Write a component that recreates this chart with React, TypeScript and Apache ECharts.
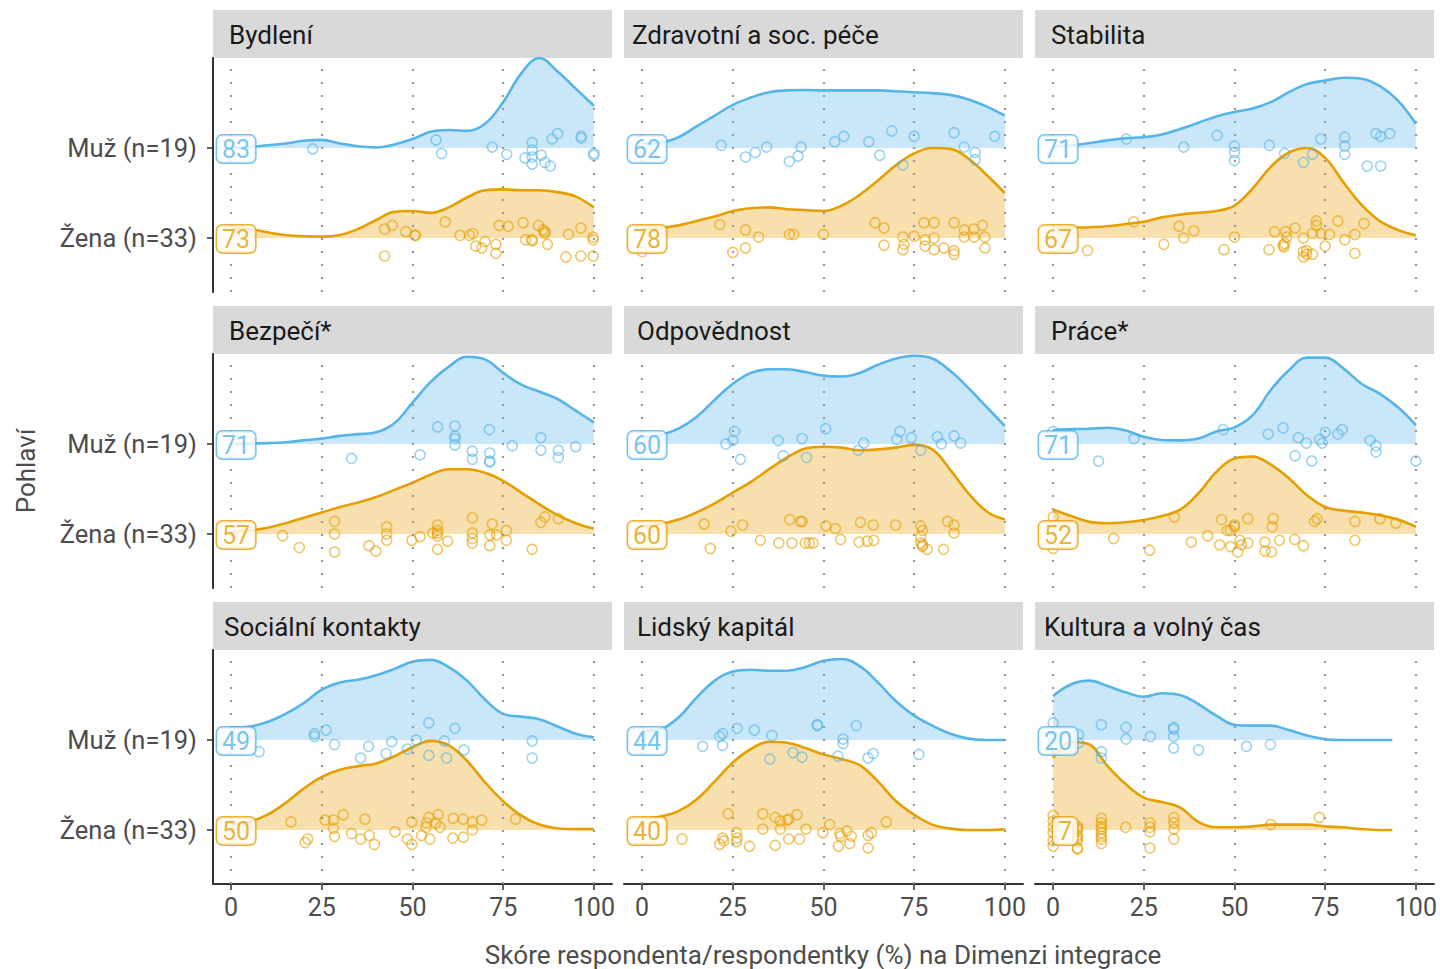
import React, { useEffect, useRef } from 'react';
import * as echarts from 'echarts';

const PANELS = ['Bydlení', 'Zdravotní a soc. péče', 'Stabilita', 'Bezpečí*', 'Odpovědnost', 'Práce*', 'Sociální kontakty', 'Lidský kapitál', 'Kultura a volný čas'];
const GROUPS = ['Muž (n=19)', 'Žena (n=33)'];
const X_TICKS = [0, 25, 50, 75, 100];
const X_TITLE = 'Skóre respondenta/respondentky (%) na Dimenzi integrace';
const Y_TITLE = 'Pohlaví';

const MEDIAN_MUZ = [83, 62, 71, 71, 60, 71, 49, 44, 20];
const MEDIAN_ZENA = [73, 78, 67, 57, 60, 52, 50, 40, 7];

const DENSITY_X = [0, 5, 10, 15, 20, 25, 30, 35, 40, 45, 50, 55, 60, 65, 70, 75, 80, 85, 90, 95, 100];
const DENSITY_X_KULTURA = [0, 5, 10, 15, 20, 25, 30, 35, 40, 45, 50, 55, 60, 65, 70, 75, 80, 85, 90, 93.5];

// density heights (ridge units) read at DENSITY_X
const DENS_MUZ = [
  [0.005, 0.01, 0.03, 0.05, 0.08, 0.09, 0.05, 0.02, 0.005, 0.04, 0.1, 0.18, 0.2, 0.19, 0.27, 0.51, 0.83, 1.0, 0.85, 0.66, 0.47],
  [0.05, 0.06, 0.12, 0.24, 0.36, 0.48, 0.56, 0.62, 0.64, 0.645, 0.64, 0.64, 0.64, 0.64, 0.63, 0.62, 0.61, 0.59, 0.54, 0.46, 0.36],
  [0.02, 0.03, 0.055, 0.085, 0.11, 0.12, 0.15, 0.21, 0.28, 0.35, 0.4, 0.44, 0.51, 0.62, 0.71, 0.75, 0.78, 0.77, 0.69, 0.53, 0.27],
  [0, 0.005, 0.01, 0.02, 0.04, 0.06, 0.09, 0.11, 0.13, 0.23, 0.46, 0.69, 0.86, 0.97, 0.94, 0.79, 0.66, 0.58, 0.5, 0.37, 0.24],
  [0.08, 0.1, 0.17, 0.3, 0.49, 0.67, 0.79, 0.83, 0.83, 0.8, 0.76, 0.75, 0.79, 0.88, 0.95, 0.98, 0.95, 0.81, 0.62, 0.41, 0.2],
  [0.155, 0.165, 0.17, 0.18, 0.15, 0.08, 0.045, 0.04, 0.06, 0.14, 0.185, 0.32, 0.6, 0.82, 0.96, 0.96, 0.84, 0.67, 0.56, 0.41, 0.21],
  [0.14, 0.15, 0.2, 0.29, 0.41, 0.56, 0.64, 0.67, 0.72, 0.79, 0.87, 0.89, 0.81, 0.66, 0.45, 0.29, 0.26, 0.23, 0.15, 0.07, 0.03],
  [0.1, 0.12, 0.25, 0.47, 0.66, 0.76, 0.78, 0.77, 0.77, 0.81, 0.88, 0.9, 0.82, 0.64, 0.43, 0.27, 0.16, 0.07, 0.015, 0, 0],
  [0.49, 0.62, 0.66, 0.6, 0.53, 0.48, 0.52, 0.5, 0.4, 0.27, 0.17, 0.16, 0.16, 0.11, 0.05, 0.01, 0, 0, 0, 0],
];

const DENS_ZENA = [
  [0.11, 0.1, 0.063, 0.033, 0.019, 0.015, 0.033, 0.1, 0.2, 0.29, 0.3, 0.28, 0.34, 0.45, 0.53, 0.54, 0.53, 0.53, 0.51, 0.46, 0.34],
  [0.1, 0.11, 0.14, 0.19, 0.24, 0.3, 0.33, 0.34, 0.32, 0.31, 0.3, 0.36, 0.48, 0.64, 0.81, 0.94, 1.0, 0.99, 0.88, 0.7, 0.5],
  [0.11, 0.115, 0.12, 0.13, 0.155, 0.18, 0.23, 0.26, 0.28, 0.3, 0.36, 0.55, 0.79, 0.95, 1.0, 0.89, 0.62, 0.37, 0.19, 0.09, 0.03],
  [0.03, 0.04, 0.07, 0.12, 0.18, 0.24, 0.3, 0.35, 0.41, 0.49, 0.57, 0.66, 0.72, 0.72, 0.68, 0.59, 0.46, 0.33, 0.21, 0.12, 0.06],
  [0.09, 0.11, 0.16, 0.24, 0.34, 0.46, 0.58, 0.72, 0.85, 0.95, 0.97, 0.96, 0.93, 0.94, 0.96, 0.99, 0.94, 0.71, 0.45, 0.25, 0.16],
  [0.27, 0.2, 0.135, 0.12, 0.13, 0.155, 0.2, 0.27, 0.45, 0.69, 0.84, 0.86, 0.77, 0.62, 0.43, 0.3, 0.26, 0.24, 0.21, 0.16, 0.08],
  [0.06, 0.09, 0.17, 0.3, 0.46, 0.59, 0.67, 0.71, 0.74, 0.82, 0.92, 0.99, 0.94, 0.77, 0.53, 0.32, 0.16, 0.06, 0.02, 0.01, 0.01],
  [0.13, 0.15, 0.21, 0.34, 0.54, 0.75, 0.9, 0.98, 0.97, 0.91, 0.84, 0.79, 0.72, 0.54, 0.32, 0.17, 0.06, 0.015, 0, 0, 0.01],
  [0.8, 0.98, 0.95, 0.71, 0.51, 0.36, 0.31, 0.25, 0.09, 0.03, 0.03, 0.04, 0.06, 0.06, 0.06, 0.04, 0.03, 0.01, 0, 0],
];

// respondents: [score, vertical jitter]
const PTS_MUZ = [
  [[22.5, -0.01], [56.5, 0.09], [58, -0.06], [72, 0.01], [76, -0.07], [81, -0.11], [83, 0.06], [83, -0.02], [83, -0.18], [85.5, -0.08], [86.5, -0.16], [88, -0.2], [88.5, 0.1], [90, 0.16], [96.5, 0.13], [96.5, 0.11], [100, -0.06], [100, -0.08], [83, -0.1]],
  [[21.8, 0.03], [28.5, -0.1], [31.2, -0.05], [34.3, 0.01], [40.6, -0.15], [43, -0.09], [43.8, 0.01], [53.1, 0.07], [55.6, 0.13], [62.5, 0.07], [65.5, -0.08], [68.8, 0.19], [71.9, -0.19], [75, 0.13], [86, 0.17], [88.8, 0.01], [91.8, -0.05], [91.8, -0.13], [97.2, 0.13]],
  [[20.2, 0.1], [36, 0.01], [45.2, 0.14], [50, 0.02], [50, -0.05], [50, -0.14], [59.6, 0.03], [63.8, -0.06], [69, -0.16], [71.5, -0.07], [73.8, 0.1], [80.4, 0.12], [80.4, 0.02], [80.4, -0.07], [86.6, -0.2], [89, 0.16], [90.3, 0.13], [90.3, -0.2], [92.8, 0.16]],
  [[33.2, -0.16], [52.1, -0.12], [56.9, 0.19], [61.7, 0.2], [61.7, 0.09], [61.7, 0.06], [61.7, -0.01], [66.5, -0.08], [66.5, -0.17], [71.2, 0.16], [71.3, -0.1], [71.3, -0.19], [71.3, -0.2], [77.5, -0.02], [85.4, 0.07], [85.4, -0.07], [90.2, -0.07], [90.2, -0.15], [95, -0.03]],
  [[23.1, 0], [25, 0.04], [25.5, 0.14], [27.1, -0.17], [37.5, 0.04], [38.9, -0.13], [44.1, 0.06], [45.3, -0.15], [50.6, 0.17], [59.6, -0.07], [61.1, 0.01], [70.2, 0.05], [71.1, 0.14], [74.2, 0.07], [76.8, -0.07], [81.4, 0.08], [82.5, 0], [86, 0.09], [87.8, 0.01]],
  [[0, 0.14], [12.5, -0.19], [22.3, 0.06], [46.9, 0.16], [59.3, 0.11], [63.4, 0.18], [66.7, -0.13], [67.6, 0.07], [69.8, 0.01], [71.3, -0.19], [73.5, 0.05], [74.2, 0.01], [75, 0.13], [78.5, 0.11], [79.7, 0.16], [87.4, 0.04], [89, -0.02], [89, -0.09], [100, -0.19]],
  [[7.7, -0.13], [23, 0.07], [23, 0.04], [26.2, 0.11], [28.5, -0.05], [35.7, -0.2], [37.9, -0.07], [42.7, -0.15], [44.3, -0.02], [48.6, -0.1], [51, 0], [54.5, 0.19], [54.5, -0.17], [58.8, -0.01], [59.4, -0.2], [61.7, 0.13], [64.2, -0.11], [83, -0.01], [83, -0.2]],
  [[16.7, -0.07], [21.4, 0.04], [22.2, 0.07], [22.2, -0.06], [26.2, 0.13], [30.9, 0.11], [35.2, -0.21], [35.8, 0.05], [41.6, -0.14], [44.1, -0.19], [48.3, 0.16], [48.3, 0.17], [54, -0.18], [55.4, 0.01], [55.4, -0.04], [59, 0.16], [62.3, -0.2], [63.7, -0.15], [76.3, -0.16]],
  [[0, 0.19], [0, 0.04], [0, -0.03], [7, 0.06], [7, -0.03], [13.3, 0.17], [13.3, -0.13], [13.3, -0.2], [20.1, 0.14], [20.1, 0.01], [26.8, 0.04], [33.2, 0.14], [33.2, 0.12], [33.2, 0.04], [33.2, -0.09], [40.1, -0.11], [53.3, -0.07], [59.9, -0.05], [0, -0.07]],
];

const PTS_ZENA = [
  [[42.3, 0.1], [42.3, -0.2], [44.4, 0.14], [48.2, 0.07], [50.6, 0.03], [50.9, 0.03], [59, 0.18], [63.1, 0.03], [65.7, 0.03], [66.6, 0.05], [67.4, -0.09], [69.1, -0.11], [70, -0.04], [73, -0.07], [73, -0.17], [73.9, 0.14], [76.4, 0.13], [80.5, 0.17], [81.2, -0.02], [83.1, -0.03], [84.7, 0.14], [86.5, 0.07], [86.5, 0.05], [87.2, -0.07], [92.3, -0.21], [93, 0.04], [96.4, 0.11], [96.4, -0.2], [99.8, 0.01], [99.8, -0.02], [99.8, -0.2], [82.8, -0.02], [86, 0.09]],
  [[0, -0.15], [21.4, 0.15], [25, -0.16], [28.5, 0.09], [28.5, -0.11], [32.1, 0.01], [40.6, 0.04], [41.8, 0.04], [50, 0.04], [64.2, 0.17], [66.7, 0.11], [66.7, -0.08], [71.9, 0.01], [72.2, -0.07], [71.9, -0.13], [75, 0.02], [77.7, 0.17], [80.5, 0.17], [78, -0.02], [78, -0.09], [80.5, 0], [80.5, -0.13], [83.2, -0.11], [86, 0.17], [86, -0.14], [86, -0.18], [88.8, 0.09], [88.8, 0.01], [91.5, 0.1], [91.5, 0.01], [93.8, 0.14], [94.5, 0.01], [94.5, -0.11]],
  [[9.5, -0.14], [22.2, 0.18], [30.5, -0.07], [34.7, 0.13], [36, 0], [38.8, 0.08], [47.1, -0.13], [50, 0.01], [59.5, -0.13], [61.1, 0.07], [63.4, -0.08], [63.8, -0.06], [64.1, 0.07], [64.4, 0.01], [66.7, 0.11], [69, 0], [69, -0.15], [69, -0.21], [69.9, -0.14], [71.5, 0.05], [71.5, -0.18], [72.6, 0.19], [72.6, 0.14], [73.8, 0.05], [75, -0.09], [76.2, 0.04], [78.5, 0.19], [80.4, -0.02], [83.2, 0.04], [83.2, -0.17], [85.7, 0.16], [63.6, -0.1], [69.9, -0.18]],
  [[14.2, -0.02], [18.8, -0.15], [28.5, 0.14], [28.5, 0], [28.5, -0.2], [38, -0.13], [39.9, -0.19], [42.9, 0.08], [42.9, 0], [42.9, -0.07], [49.8, -0.07], [52.1, -0.03], [55.6, 0.01], [56.9, 0.1], [56.9, 0.01], [56.9, -0.02], [56.9, -0.17], [59.7, -0.08], [66.5, 0.18], [66.5, 0.01], [66.5, -0.05], [66.5, -0.1], [71.3, -0.01], [71.3, -0.13], [72, 0.11], [73.2, -0.01], [75.9, 0.04], [75.9, -0.07], [83, -0.17], [85.4, 0.13], [86.5, 0.19], [90.2, 0.17], [56.9, 0.04]],
  [[17.1, 0.11], [18.8, -0.16], [24.5, 0.03], [27.7, 0.1], [32.6, -0.07], [37.7, -0.1], [40.7, 0.16], [41.3, -0.1], [43.6, 0.14], [44.1, 0.14], [45, -0.1], [46.1, -0.1], [47.1, -0.1], [50.7, 0.09], [53.3, 0.06], [54.7, -0.06], [59.8, -0.09], [60.2, 0.13], [62.1, -0.08], [63.7, 0.1], [63.9, -0.07], [69.9, 0.1], [76.8, 0.09], [77.3, 0.04], [76.8, -0.03], [76.8, -0.1], [77.3, -0.14], [78.6, -0.17], [83.1, -0.17], [84.2, 0.14], [86, 0.1], [86, 0.01], [77.3, -0.12]],
  [[0, 0.19], [0, -0.16], [16.7, -0.05], [26.6, -0.18], [33.4, 0.19], [38.1, -0.09], [42.6, -0.02], [45.9, -0.12], [46.4, 0.16], [48, 0.04], [48.9, -0.14], [50, 0.08], [50.9, -0.2], [51.5, -0.07], [51.9, -0.12], [53.7, -0.1], [53.7, 0.17], [58.4, -0.09], [58.4, -0.19], [60.2, -0.2], [60.4, 0.08], [60.7, 0.17], [62.4, -0.07], [66.6, -0.06], [69, -0.13], [72.1, 0.14], [72.8, 0.17], [83.2, 0.14], [83.2, -0.07], [90.1, 0.17], [94.5, 0.12], [50, 0.1], [48.9, 0.04]],
  [[16.5, 0.09], [20.4, -0.14], [21.1, -0.1], [25.9, 0.11], [28.2, 0.11], [28.2, 0.02], [28.5, -0.07], [30.9, 0.17], [33.2, -0.04], [35.7, -0.1], [36.9, 0.12], [38.1, -0.06], [39.5, -0.16], [45.2, -0.02], [48.6, -0.1], [49.8, 0.09], [49.8, -0.16], [52.5, -0.06], [53.7, 0.03], [54.5, 0.14], [54.8, -0.1], [56.4, 0.08], [57.1, 0.17], [57.6, 0.03], [61.2, 0.13], [61.1, -0.09], [64, 0.12], [64, -0.08], [66.5, 0.09], [66.5, 0], [69.1, 0.11], [78.4, 0.12], [53.9, 0.08]],
  [[11, -0.1], [21.4, -0.16], [22.2, -0.09], [23.7, 0.18], [26, -0.03], [26, -0.13], [29.6, -0.18], [33.3, 0.18], [33.3, 0.01], [36.7, 0.14], [36.7, -0.17], [38.1, 0.01], [38.1, 0.1], [40.4, 0.12], [40.4, -0.1], [42.7, 0.17], [43.4, -0.1], [45.2, 0.01], [49.8, -0.03], [51.7, 0.06], [54.1, -0.18], [54.5, -0.04], [56.4, -0.01], [57.2, -0.15], [57.7, -0.07], [62.3, -0.06], [62.3, -0.2], [63.2, -0.03], [67.3, 0.09], [22.5, -0.12], [26.2, -0.09], [40, 0.11], [54.7, -0.07]],
  [[0, 0.16], [0, 0.1], [0, -0.18], [6.7, 0.04], [6.7, 0], [6.7, -0.06], [6.7, -0.12], [6.7, -0.2], [6.7, -0.21], [13.3, 0.13], [13.3, 0.04], [13.3, 0.01], [13.3, -0.03], [13.3, -0.1], [13.3, -0.15], [20, 0.03], [26.7, 0.08], [26.7, -0.02], [26.7, -0.2], [33.3, 0.14], [33.3, 0.01], [33.3, -0.1], [60, 0.06], [73.4, 0.14], [0, -0.03], [0, -0.12], [6.7, -0.09], [13.3, 0.08], [13.3, -0.07], [26.7, 0.03], [33.3, 0.08], [6.7, 0.02], [0, 0.03]],
];

// ---- layout / style ----
const FONT = 'Roboto, "Liberation Sans", sans-serif';
const COL_LEFT = [213, 624, 1035];
const ROW_TOP = [58, 354, 650];
const PANEL_W = 399;
const PANEL_H = 234;
const STRIP_H = 48;
const STRIP_PAD = [16, 8, 16, 16, 13, 16, 11, 13, 9];
const BLUE = '#56B4E9';
const ORANGE = '#E69F00';
const BLUE_FILL = 'rgba(86,180,233,0.32)';
const ORANGE_FILL = 'rgba(230,159,0,0.32)';
const BLUE_PT = 'rgba(86,180,233,0.75)';
const ORANGE_PT = 'rgba(230,159,0,0.75)';
const Y_MUZ = 2;
const Y_ZENA = 1;

function buildOption() {
  const grid: any[] = [];
  const xAxis: any[] = [];
  const yAxis: any[] = [];
  const series: any[] = [];
  const graphic: any[] = [];

  PANELS.forEach((name, i) => {
    const r = Math.floor(i / 3);
    const c = i % 3;
    const left = COL_LEFT[c];
    const top = ROW_TOP[r];
    grid.push({ left, top, width: PANEL_W, height: PANEL_H, containLabel: false });

    const isBottom = r === 2;
    xAxis.push({
      type: 'value',
      gridIndex: i,
      min: -5,
      max: 105,
      show: isBottom,
      axisLine: { show: true, onZero: false, lineStyle: { color: '#333333', width: 2 } },
      axisTick: { show: true, customValues: X_TICKS, length: 6, lineStyle: { color: '#333333', width: 1.5 } },
      axisLabel: { show: true, customValues: X_TICKS, fontSize: 25, color: '#4D4D4D', margin: 11, fontFamily: FONT },
      splitLine: { show: false },
    });

    const isLeft = c === 0;
    yAxis.push({
      type: 'value',
      gridIndex: i,
      min: 0.4,
      max: 3,
      show: isLeft,
      axisLine: { show: true, onZero: false, lineStyle: { color: '#333333', width: 2 } },
      axisTick: { show: true, customValues: [Y_ZENA, Y_MUZ], length: 6, lineStyle: { color: '#333333', width: 1.5 } },
      axisLabel: {
        show: true,
        customValues: [Y_ZENA, Y_MUZ],
        fontSize: 25.5,
        color: '#4D4D4D',
        margin: 16,
        fontFamily: FONT,
        formatter: (v: number) => (Math.abs(v - Y_MUZ) < 0.01 ? GROUPS[0] : GROUPS[1]),
      },
      splitLine: { show: false },
    });

    const xs = DENS_MUZ[i].length === DENSITY_X.length ? DENSITY_X : DENSITY_X_KULTURA;

    // dotted vertical grid lines
    series.push({
      type: 'line',
      xAxisIndex: i,
      yAxisIndex: i,
      data: [],
      silent: true,
      z: 0,
      markLine: {
        silent: true,
        symbol: ['none', 'none'],
        label: { show: false },
        lineStyle: { color: '#999999', type: [2, 11], width: 2.2 },
        data: X_TICKS.map((v) => ({ xAxis: v })),
      },
    });

    series.push({
      type: 'line',
      xAxisIndex: i,
      yAxisIndex: i,
      data: xs.map((x, k) => [x, Y_MUZ + DENS_MUZ[i][k]]),
      smooth: 0.4,
      showSymbol: false,
      symbol: 'none',
      lineStyle: { color: BLUE, width: 2.6 },
      areaStyle: { color: BLUE_FILL, opacity: 1, origin: Y_MUZ },
      z: 2,
      silent: true,
    });
    series.push({
      type: 'line',
      xAxisIndex: i,
      yAxisIndex: i,
      data: xs.map((x, k) => [x, Y_ZENA + DENS_ZENA[i][k]]),
      smooth: 0.4,
      showSymbol: false,
      symbol: 'none',
      lineStyle: { color: ORANGE, width: 2.6 },
      areaStyle: { color: ORANGE_FILL, opacity: 1, origin: Y_ZENA },
      z: 2,
      silent: true,
    });

    series.push({
      type: 'scatter',
      xAxisIndex: i,
      yAxisIndex: i,
      data: PTS_MUZ[i].map(([s, j]) => [s, Y_MUZ + j]),
      symbol: 'circle',
      symbolSize: 10,
      itemStyle: { color: 'rgba(255,255,255,0)', borderColor: BLUE_PT, borderWidth: 1.6 },
      z: 3,
      silent: true,
    });
    series.push({
      type: 'scatter',
      xAxisIndex: i,
      yAxisIndex: i,
      data: PTS_ZENA[i].map(([s, j]) => [s, Y_ZENA + j]),
      symbol: 'circle',
      symbolSize: 10,
      itemStyle: { color: 'rgba(255,255,255,0)', borderColor: ORANGE_PT, borderWidth: 1.6 },
      z: 3,
      silent: true,
    });

    const lbl = (color: string, text: string) => ({
      show: true,
      position: 'inside',
      align: 'right',
      verticalAlign: 'middle',
      offset: [24, 1],
      formatter: text,
      color,
      fontSize: 25,
      fontFamily: FONT,
      backgroundColor: '#FFFFFF',
      borderColor: color,
      borderWidth: 1.5,
      borderRadius: 5,
      padding: [2, 5, 0, 5],
    });
    series.push({
      type: 'scatter',
      xAxisIndex: i,
      yAxisIndex: i,
      symbolSize: 1,
      itemStyle: { color: 'rgba(0,0,0,0)' },
      z: 10,
      silent: true,
      data: [
        { value: [0, Y_MUZ], label: lbl(BLUE, String(MEDIAN_MUZ[i])) },
        { value: [0, Y_ZENA], label: lbl(ORANGE, String(MEDIAN_ZENA[i])) },
      ],
    });

    graphic.push({
      type: 'rect',
      shape: { x: left, y: top - STRIP_H, width: PANEL_W, height: STRIP_H },
      style: { fill: '#D9D9D9' },
      silent: true,
    });
    graphic.push({
      type: 'text',
      x: left + STRIP_PAD[i],
      y: top - STRIP_H / 2 + 1,
      style: {
        text: name,
        fill: '#1A1A1A',
        fontSize: 26,
        fontFamily: FONT,
        textAlign: 'left',
        textVerticalAlign: 'middle',
      },
      silent: true,
    });
  });

  graphic.push({
    type: 'text',
    x: 823,
    y: 955,
    style: { text: X_TITLE, fill: '#4D4D4D', fontSize: 26, fontFamily: FONT, textAlign: 'center', textVerticalAlign: 'middle' },
    silent: true,
  });
  graphic.push({
    type: 'text',
    x: 26,
    y: 471,
    rotation: Math.PI / 2,
    style: { text: Y_TITLE, fill: '#4D4D4D', fontSize: 26, fontFamily: FONT, textAlign: 'center', textVerticalAlign: 'middle' },
    silent: true,
  });

  return {
    animation: false,
    backgroundColor: '#FFFFFF',
    textStyle: { fontFamily: FONT },
    grid,
    xAxis,
    yAxis,
    series,
    graphic,
  };
}

export default function App() {
  const ref = useRef<HTMLDivElement>(null);
  useEffect(() => {
    if (!ref.current) return;
    const chart = echarts.init(ref.current, undefined, { renderer: 'svg' });
    chart.setOption(buildOption() as any);
    return () => chart.dispose();
  }, []);
  return (
    <div
      ref={ref}
      style={{ position: 'fixed', left: 0, top: 0, width: 1440, height: 969, background: '#FFFFFF' }}
    />
  );
}
